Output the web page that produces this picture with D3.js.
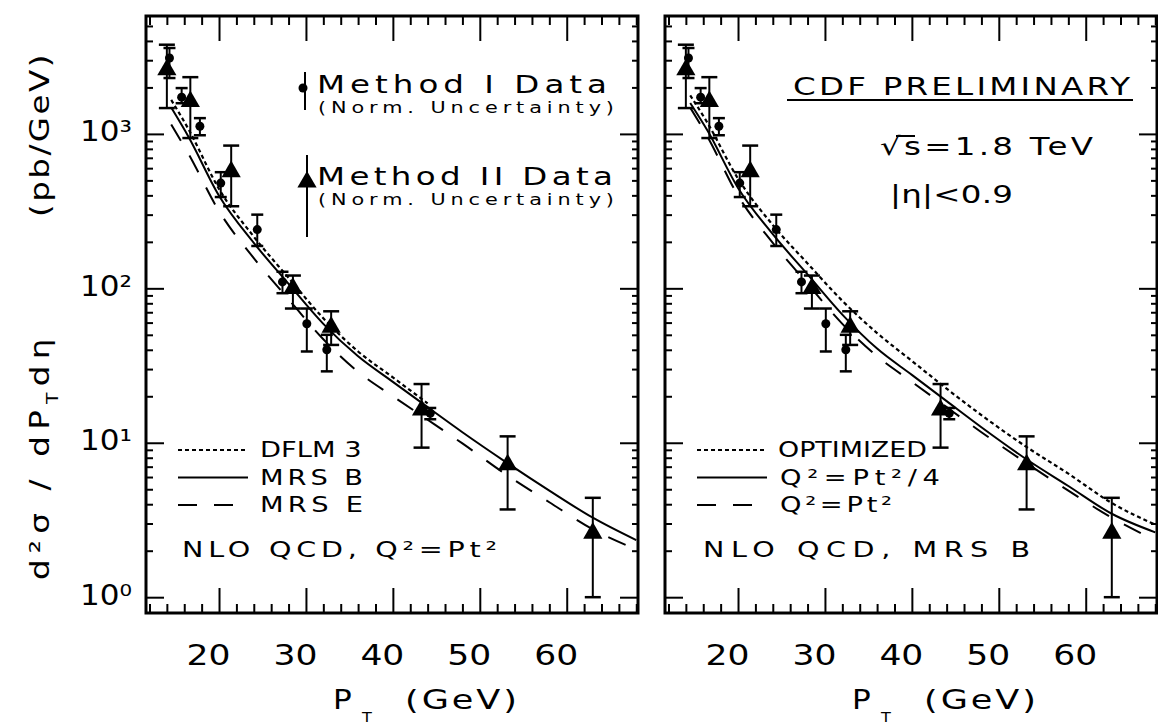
<!DOCTYPE html>
<html>
<head>
<meta charset="utf-8">
<script src="https://cdn.jsdelivr.net/npm/d3@7"></script>
<style>
  body { margin: 0; background: #fff; }
  svg text { font-family: "DejaVu Sans", sans-serif; fill: #000; }
</style>
</head>
<body>
<svg id="chart" width="1158" height="727"></svg>
<script>
// ---- data (pb/GeV vs PT in GeV) ----
var ptGrid     = [14.5, 16.5, 20, 24, 28, 32, 36, 40, 44, 48, 53, 58, 63, 68];
var mrsB       = [1480, 955, 398, 197, 107, 58.9, 36.3, 24.8, 17.0, 11.7, 7.5, 4.9, 3.27, 2.34];
var mrsE       = [1150, 741, 316, 157, 85, 46.8, 28.8, 20.0, 14.1, 9.9, 6.24, 4.12, 2.75, 2.04];
var dflmPt     = [14.5, 16.5, 20, 24, 28, 32, 36, 40, 44];
var dflm3      = [1660, 1070, 440, 216, 117, 64, 39, 26.5, 18.0];
var optimized  = [1778, 1175, 513, 257, 145, 83, 51.3, 33.9, 22.4, 15.1, 9.55, 6.31, 4.07, 2.95];
var quarterPt2 = [1585, 1047, 447, 224, 123, 67.6, 40.7, 27.5, 18.6, 12.6, 7.94, 5.25, 3.47, 2.63];
var fullPt2    = mrsB; // right panel Q2=Pt2 is the same MRS B curve

// [pt, value, low, high]
var method1 = [
  [14.3, 3100, 2300, 3600],
  [15.7, 1730, 1580, 1980],
  [17.8, 1120, 980, 1265],
  [20.2, 480, 390, 565],
  [24.4, 240, 188, 300],
  [27.3, 110, 93, 128],
  [30.1, 59, 39, 74],
  [32.4, 40, 29, 50],
  [44.3, 15.5, 14.2, 16.8]
];
var method2 = [
  [14.0, 2600, 1470, 3780],
  [16.7, 1620, 940, 2330],
  [21.4, 570, 340, 840],
  [28.5, 100, 74, 121],
  [32.9, 56, 43, 71],
  [43.3, 16.3, 9.3, 24],
  [53.2, 7.2, 3.7, 11.0],
  [63.0, 2.6, 1.0, 4.4]
];

var xMajor = [20, 30, 40, 50, 60];
var xMinor = [12, 14, 16, 18, 22, 24, 26, 28, 32, 34, 36, 38, 42, 44, 46, 48, 52, 54, 56, 58, 62, 64, 66, 68];
var yMajor = [1, 10, 100, 1000];
var yLabels = ["10\u2070", "10\u00b9", "10\u00b2", "10\u00b3"];

var xDomain = [11.6, 68.2];
var yDomain = [0.79, 5800];
var yTop = 16, yBot = 613;

var svg = d3.select("#chart");
var y = d3.scaleLog().domain(yDomain).range([yBot, yTop]);

var yMinor = [];
[1, 10, 100, 1000].forEach(function(dec){
  [2,3,4,5,6,7,8,9].forEach(function(m){
    if (dec*m < yDomain[1]) yMinor.push(dec*m);
  });
});

var styles = {
  dot:   "4,3",
  solid: null,
  dash:  "19,17"
};

function tickAxis(g, axis, tr){
  g.append("g").attr("transform", tr)
    .call(axis.tickFormat("").tickSizeOuter(0))
    .call(function(a){ a.select(".domain").remove(); })
    .selectAll("line").attr("stroke", "#000").attr("stroke-width", 2);
}

// widen the glyphs a bit (plotter lettering is wide), the rest goes into spacing
function fit(t, len, maxS){
  var w = t.node().getComputedTextLength();
  var s = Math.min(maxS || 1.3, len / w);
  if (len / s > w + 0.5) t.attr("textLength", len / s).attr("lengthAdjust", "spacing");
  return s;
}

function label(g, txt, x0, base, size, len){
  var t = g.append("text")
    .attr("font-size", size)
    .text(txt);
  var s = len ? fit(t, len) : 1.15;
  t.attr("transform", "translate(" + x0 + "," + base + ") scale(" + s + ",1)");
  return t;
}

function drawPanel(p){
  var x = d3.scaleLinear().domain(xDomain).range([p.x0, p.x1]);
  var g = svg.append("g");

  // ticks on all four sides
  tickAxis(g, d3.axisBottom(x).tickValues(xMajor).tickSize(-25), "translate(0," + yBot + ")");
  tickAxis(g, d3.axisBottom(x).tickValues(xMinor).tickSize(-9), "translate(0," + yBot + ")");
  tickAxis(g, d3.axisTop(x).tickValues(xMajor).tickSize(-25), "translate(0," + yTop + ")");
  tickAxis(g, d3.axisTop(x).tickValues(xMinor).tickSize(-9), "translate(0," + yTop + ")");
  tickAxis(g, d3.axisLeft(y).tickValues(yMajor).tickSize(-18), "translate(" + p.x0 + ",0)");
  tickAxis(g, d3.axisLeft(y).tickValues(yMinor).tickSize(-7), "translate(" + p.x0 + ",0)");
  tickAxis(g, d3.axisRight(y).tickValues(yMajor).tickSize(-18), "translate(" + p.x1 + ",0)");
  tickAxis(g, d3.axisRight(y).tickValues(yMinor).tickSize(-6), "translate(" + p.x1 + ",0)");

  g.append("rect")
    .attr("x", p.x0).attr("y", yTop)
    .attr("width", p.x1 - p.x0).attr("height", yBot - yTop)
    .attr("fill", "none").attr("stroke", "#000").attr("stroke-width", 3);

  // x tick labels
  g.append("g").attr("transform", "translate(0," + yBot + ")")
    .call(d3.axisBottom(x).tickValues(xMajor).tickSize(0).tickPadding(32).tickFormat(d3.format("d")))
    .call(function(a){ a.select(".domain").remove(); })
    .attr("font-family", null).attr("font-size", null)
    .selectAll("text")
      .attr("font-size", 28)
      .each(function(){
        var t = d3.select(this);
        var s = fit(t, 44, 1.3);
        t.attr("transform", "scale(" + s + ",1)").attr("dx", -11 / s);
      });

  // x title
  label(g, "P", p.x0 + 187, 709, 27);
  label(g, "T", p.x0 + 216, 722, 14);
  label(g, "(GeV)", p.x0 + 259, 709, 27, 112);

  // theory curves
  var line = d3.line()
    .x(function(d){ return x(d[0]); })
    .y(function(d){ return y(d[1]); })
    .curve(d3.curveMonotoneX);

  p.curves.forEach(function(c){
    g.append("path")
      .datum(d3.zip(c.pt, c.vals))
      .attr("d", line)
      .attr("fill", "none").attr("stroke", "#000")
      .attr("stroke-width", c.style == "dot" ? 2.2 : 2)
      .attr("stroke-dasharray", styles[c.style]);
  });

  // error bars
  [[method1, 6], [method2, 8]].forEach(function(s){
    var eb = g.append("g").selectAll("g").data(s[0]).enter().append("g");
    eb.append("line")
      .attr("x1", function(d){ return x(d[0]); }).attr("x2", function(d){ return x(d[0]); })
      .attr("y1", function(d){ return y(d[2]); }).attr("y2", function(d){ return y(d[3]); })
      .attr("stroke", "#000").attr("stroke-width", 2);
    [2, 3].forEach(function(k){
      eb.append("line")
        .attr("x1", function(d){ return x(d[0]) - s[1]; }).attr("x2", function(d){ return x(d[0]) + s[1]; })
        .attr("y1", function(d){ return y(d[k]); }).attr("y2", function(d){ return y(d[k]); })
        .attr("stroke", "#000").attr("stroke-width", 2.5);
    });
  });

  g.selectAll("circle.m1").data(method1).enter().append("circle")
    .attr("class", "m1")
    .attr("cx", function(d){ return x(d[0]); })
    .attr("cy", function(d){ return y(d[1]); })
    .attr("r", 4.5).attr("fill", "#000");

  g.selectAll("path.m2").data(method2).enter().append("path")
    .attr("class", "m2")
    .attr("transform", function(d){ return "translate(" + x(d[0]) + "," + y(d[1]) + ")"; })
    .attr("d", d3.symbol(d3.symbolTriangle, 160))
    .attr("fill", "#000");

  // curve legend
  var lx = p.x0 + 32;
  p.curves.forEach(function(c, i){
    var ly = 450 + i * 27.5;
    g.append("line")
      .attr("x1", lx).attr("x2", lx + (c.style == "dash" ? 59 : 70))
      .attr("y1", ly).attr("y2", ly)
      .attr("stroke", "#000").attr("stroke-width", 2)
      .attr("stroke-dasharray", styles[c.style]);
    label(g, c.name, p.x0 + c.lx, ly + 7, 21, c.len);
  });
  label(g, p.note, p.x0 + p.noteX, 557, 22, p.noteLen);

  return g;
}

var left = drawPanel({
  x0: 146, x1: 638,
  curves: [
    {pt: dflmPt, vals: dflm3, style: "dot",   name: "DFLM 3", lx: 114, len: 102},
    {pt: ptGrid, vals: mrsB,  style: "solid", name: "MRS B",  lx: 114, len: 103},
    {pt: ptGrid, vals: mrsE,  style: "dash",  name: "MRS E",  lx: 114, len: 103}
  ],
  note: "NLO QCD,  Q\u00b2=Pt\u00b2", noteX: 36, noteLen: 315
});

var right = drawPanel({
  x0: 665, x1: 1157,
  curves: [
    {pt: ptGrid, vals: optimized,  style: "dot",   name: "OPTIMIZED", lx: 113, len: 149},
    {pt: ptGrid, vals: quarterPt2, style: "solid", name: "Q\u00b2=Pt\u00b2/4", lx: 115, len: 160},
    {pt: ptGrid, vals: fullPt2,    style: "dash",  name: "Q\u00b2=Pt\u00b2", lx: 115, len: 112}
  ],
  note: "NLO QCD,  MRS B", noteX: 38, noteLen: 327
});

// y tick labels (left panel only)
svg.append("g").attr("transform", "translate(146,0)")
  .call(d3.axisLeft(y).tickValues(yMajor).tickSize(0).tickPadding(14)
    .tickFormat(function(d, i){ return yLabels[i]; }))
  .call(function(a){ a.select(".domain").remove(); })
  .attr("font-family", null).attr("font-size", null)
  .selectAll("text")
    .attr("font-size", 28).attr("dy", "0.25em").attr("x", 0)
    .each(function(){
      var t = d3.select(this);
      var s = fit(t, 52, 1.25);
      t.attr("transform", "translate(-14,0) scale(" + s + ",1)");
    });

// y title, in two pieces, running upward
var yt = svg.append("text")
  .attr("font-size", 26)
  .attr("letter-spacing", 5)
  .attr("transform", "translate(49,580) rotate(-90) scale(1.25,1)");
yt.append("tspan").text("d\u00b2\u03c3 / dP");
yt.append("tspan").attr("font-size", 15).attr("dy", 9).text("T");
yt.append("tspan").attr("dy", -9).text("d\u03b7");

svg.append("text")
  .attr("font-size", 26)
  .attr("letter-spacing", 2)
  .attr("transform", "translate(49,217) rotate(-90) scale(1.25,1)")
  .text("(pb/GeV)");

// data legend, left panel
label(left, "Method I Data", 317, 93, 25, 290);
label(left, "(Norm. Uncertainty)", 318, 113, 16, 296);
label(left, "Method II Data", 317, 185, 25, 296);
label(left, "(Norm. Uncertainty)", 318, 205, 16, 296);
left.append("line").attr("x1", 305).attr("x2", 305).attr("y1", 72).attr("y2", 110)
  .attr("stroke", "#000").attr("stroke-width", 2);
left.append("circle").attr("cx", 303).attr("cy", 88).attr("r", 4.5).attr("fill", "#000");
left.append("line").attr("x1", 307).attr("x2", 307).attr("y1", 155).attr("y2", 237)
  .attr("stroke", "#000").attr("stroke-width", 2);
left.append("path").attr("transform", "translate(307,182)")
  .attr("d", d3.symbol(d3.symbolTriangle, 160)).attr("fill", "#000");

// annotations, right panel
label(right, "CDF  PRELIMINARY", 793, 95, 25, 337);
right.append("line").attr("x1", 787).attr("x2", 1133).attr("y1", 100).attr("y2", 100)
  .attr("stroke", "#000").attr("stroke-width", 2);
label(right, "\u221as=1.8  TeV", 880, 155, 25, 213);
right.append("line").attr("x1", 896).attr("x2", 915).attr("y1", 136).attr("y2", 136)
  .attr("stroke", "#000").attr("stroke-width", 2);
label(right, "|\u03b7|<0.9", 890, 203, 25, 123);
</script>
</body>
</html>
